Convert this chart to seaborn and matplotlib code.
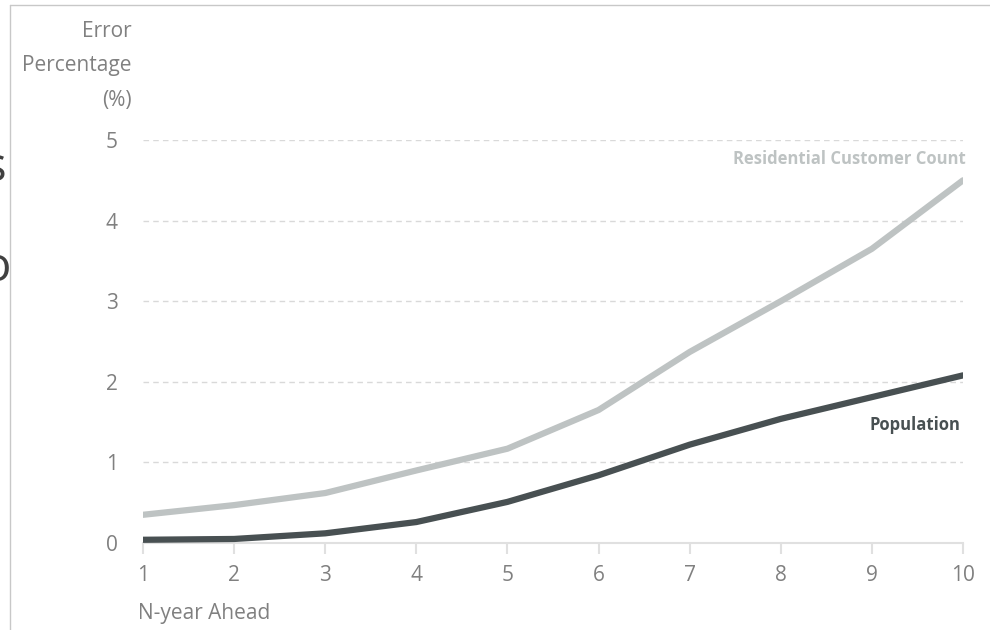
import matplotlib
matplotlib.use("Agg")
import matplotlib.pyplot as plt
import seaborn as sns
import pandas as pd
from matplotlib.lines import Line2D

years = [1, 2, 3, 4, 5, 6, 7, 8, 9, 10]
residential = [0.35, 0.47, 0.62, 0.90, 1.17, 1.65, 2.37, 3.00, 3.65, 4.50]
population = [0.04, 0.05, 0.12, 0.26, 0.51, 0.84, 1.22, 1.54, 1.81, 2.08]
y_ticks = [0, 1, 2, 3, 4, 5]

sns.set_theme(style="white")
plt.rcParams['font.family'] = ['Open Sans', 'DejaVu Sans']

df = pd.DataFrame({
    "year": years * 2,
    "value": residential + population,
    "series": ["Residential Customer Count"] * len(years) + ["Population"] * len(years),
})

fig = plt.figure(figsize=(9.9, 6.3), dpi=100)
ax = fig.add_axes([143/990, 1-543/630, (963-143)/990, (543-140)/630])

light = "#bec3c3"
dark = "#485052"
tickc = "#808080"

sns.lineplot(data=df, x="year", y="value", hue="series",
             palette={"Residential Customer Count": light, "Population": dark},
             linewidth=4.5, legend=False, ax=ax, zorder=3)

ax.set_xlim(1, 10)
ax.set_ylim(0, 5)
ax.set_xticks(years)
ax.set_yticks(y_ticks)
ax.set_xticklabels([str(v) for v in years])
ax.set_yticklabels([str(v) for v in y_ticks])
for v in y_ticks[1:]:
    ax.axhline(v, color="#d9d9d9", linestyle=(0, (4, 3)), linewidth=1.0, zorder=1)

for s in ["top", "right", "left"]:
    ax.spines[s].set_visible(False)
ax.spines["bottom"].set_color("#e0e0e0")
ax.spines["bottom"].set_linewidth(1.5)
ax.spines["bottom"].set_zorder(2)
ax.tick_params(axis="x", bottom=True, direction="out", colors="#e0e0e0", length=8,
               width=1.5, labelcolor=tickc, labelsize=15, pad=8)
ax.tick_params(axis="y", left=False, length=0, labelcolor=tickc, labelsize=15, pad=18)
ax.set_xlabel("")
ax.set_ylabel("")

fig.text(132/990, 1-66/630, "Error\nPercentage\n(%)", ha="right", va="center",
         color=tickc, fontsize=15, linespacing=1.85)
fig.text(138/990, 1-614/630, "N-year Ahead", ha="left", va="center",
         color=tickc, fontsize=15)

ax.text(10.03, 4.76, "Residential Customer Count", ha="right", va="center",
        color=light, fontsize=12, fontweight="bold")
ax.text(9.97, 1.47, "Population", ha="right", va="center",
        color=dark, fontsize=12, fontweight="bold")

# frame lines at figure edge
fig.add_artist(Line2D([10/990, 1], [1-5/630, 1-5/630], color="#c8c8c8", linewidth=1.0))
fig.add_artist(Line2D([10/990, 10/990], [0, 1-5/630], color="#c8c8c8", linewidth=1.0))
# clipped letters at left edge (cut off in the reference too)
fig.text(-16/990, 1-168/630, "s", ha="left", va="center", color="#404040", fontsize=34)
fig.text(-18/990, 1-268/630, "o", ha="left", va="center", color="#404040", fontsize=34)

fig.savefig("out.png", dpi=100)
